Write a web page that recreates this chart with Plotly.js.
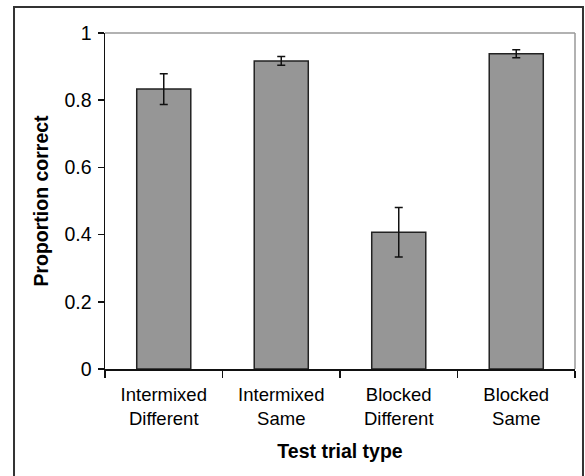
<!DOCTYPE html>
<html>
<head>
<meta charset="utf-8">
<script src="https://cdn.plot.ly/plotly-3.0.1.min.js"></script>
<style>
  html, body { margin: 0; padding: 0; background: #fff; }
  #chart { width: 585px; height: 476px; }
</style>
</head>
<body>
<div id="chart"></div>
<script>
const categories = ["Intermixed<br>Different", "Intermixed<br>Same", "Blocked<br>Different", "Blocked<br>Same"];
const proportionCorrect = [0.833, 0.917, 0.407, 0.938];
const errorValues = [0.046, 0.013, 0.074, 0.012];
const yTickValues = [0, 0.2, 0.4, 0.6, 0.8, 1];
const yTickLabels = ["0", "0.2", "0.4", "0.6", "0.8", "1"];

const trace = {
  type: "bar",
  x: categories,
  y: proportionCorrect,
  marker: { color: "#969696", line: { color: "#222222", width: 1.5 } },
  error_y: { type: "data", array: errorValues, visible: true, color: "#111111", thickness: 1.5, width: 4 },
  hoverinfo: "skip"
};

const layout = {
  width: 585,
  height: 476,
  margin: { l: 105, r: 10, t: 33, b: 107, pad: 0 },
  paper_bgcolor: "#ffffff",
  plot_bgcolor: "#ffffff",
  font: { family: "'Liberation Sans', Arial, sans-serif", color: "#000", size: 18 },
  bargap: 0.54,
  showlegend: false,
  xaxis: {
    type: "category",
    tickson: "boundaries",
    ticks: "outside",
    ticklen: 7,
    tickwidth: 1.5,
    tickcolor: "#111",
    showline: true,
    linecolor: "#111",
    linewidth: 1.5,
    showgrid: false,
    zeroline: false,
    tickfont: { size: 18.5 },
    ticklabelstandoff: 8,
    title: { text: "<b>Test trial type</b>", font: { size: 19.5 }, standoff: 16 },
    automargin: false
  },
  yaxis: {
    range: [0, 1],
    tickvals: yTickValues,
    ticktext: yTickLabels,
    ticks: "outside",
    ticklen: 6,
    tickwidth: 1.5,
    tickcolor: "#111",
    showline: true,
    linecolor: "#111",
    linewidth: 1.5,
    showgrid: false,
    zeroline: false,
    tickfont: { size: 19.5 },
    ticklabelstandoff: 2,
    title: { text: "<b>Proportion correct</b>", font: { size: 19.5 }, standoff: 10 },
    automargin: false
  },
  shapes: [
    { type: "line", xref: "paper", yref: "paper", x0: 0, x1: 1, y0: 1, y1: 1, line: { color: "#999999", width: 1.5 } },
    { type: "line", xref: "paper", yref: "paper", x0: 1, x1: 1, y0: 0, y1: 1, line: { color: "#999999", width: 1.5 } },
    { type: "rect", xref: "paper", yref: "paper", x0: -0.1936, x1: 1.017, y0: -0.33, y1: 1.0774, line: { color: "#333333", width: 2 }, fillcolor: "rgba(0,0,0,0)", layer: "below" }
  ]
};

Plotly.newPlot("chart", [trace], layout, { displayModeBar: false, staticPlot: true });
</script>
</body>
</html>
